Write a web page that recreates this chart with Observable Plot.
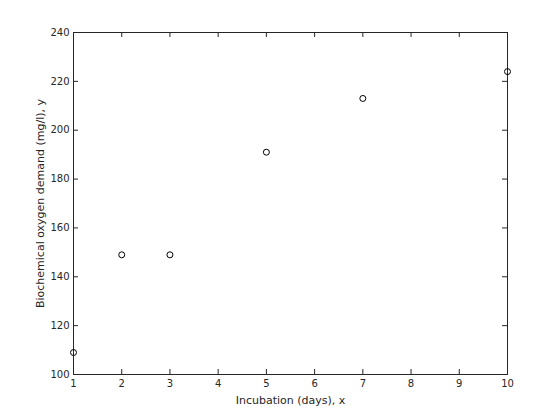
<!DOCTYPE html>
<html><head><meta charset="utf-8">
<script src="https://cdn.jsdelivr.net/npm/d3@7"></script>
<script src="https://cdn.jsdelivr.net/npm/@observablehq/plot@0.6"></script>
<style>body{margin:0;background:#fff}</style>
</head><body><div id="chart"></div>
<script>
const days = [1, 2, 3, 5, 7, 10];
const bod = [109, 149, 149, 191, 213, 224];
const xTicks = [1,2,3,4,5,6,7,8,9,10];
const yTicks = [100,120,140,160,180,200,220,240];
const xLabel = "Incubation (days), x";
const yLabel = "Biochemical oxygen demand (mg/l), y";
const data = days.map((d,i)=>({x:d, y:bod[i]}));
const ink = "#262626";
const chart = Plot.plot({
  width: 560, height: 420,
  marginLeft: 73, marginRight: 53, marginTop: 32, marginBottom: 46,
  style: {fontFamily: "DejaVu Sans", fontSize: "10px", color: ink, background: "#fff"},
  x: {domain: [1, 10], label: null},
  y: {domain: [100, 240], label: null},
  marks: [
    Plot.frame({stroke: ink}),
    Plot.axisX({ticks: xTicks, tickSize: 0, tickPadding: 5, tickFormat: d=>String(d), label: null, fill: ink}),
    Plot.axisY({ticks: yTicks, tickSize: 0, tickPadding: 4, tickFormat: d=>String(d), label: null, fill: ink}),
    Plot.text([xLabel], {text: d=>d, frameAnchor: "bottom", dy: 26, textAnchor: "middle", lineAnchor: "middle", fontSize: 11, fill: ink, style: {letterSpacing: "0.3px"}}),
    Plot.text([yLabel], {text: d=>d, frameAnchor: "left", dx: -33, rotate: -90, textAnchor: "middle", lineAnchor: "middle", fontSize: 11, fill: ink}),
    Plot.tickX(xTicks, {x: d=>d, stroke: ink, insetTop: 337}),
    Plot.tickX(xTicks, {x: d=>d, stroke: ink, insetBottom: 337}),
    Plot.tickY(yTicks, {y: d=>d, stroke: ink, insetRight: 429}),
    Plot.tickY(yTicks, {y: d=>d, stroke: ink, insetLeft: 429}),
    Plot.dot(data, {x: "x", y: "y", r: 3, stroke: "black", strokeWidth: 1, fill: "none"})
  ]
});
chart.querySelectorAll("text").forEach(t=>{});
document.getElementById("chart").appendChild(chart);
</script>
</body></html>
